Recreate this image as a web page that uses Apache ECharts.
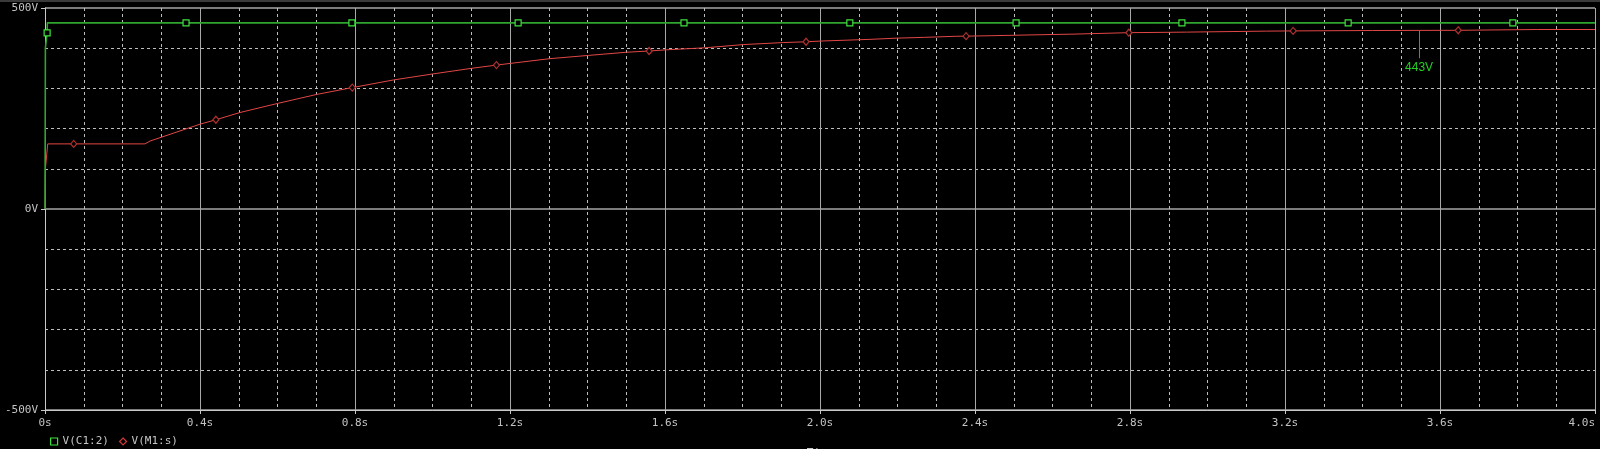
<!DOCTYPE html>
<html>
<head>
<meta charset="utf-8">
<script src="https://cdn.jsdelivr.net/npm/echarts@6/dist/echarts.min.js"></script>
<style>
html,body{margin:0;padding:0;background:#000;}
#chart{width:1600px;height:449px;}
</style>
</head>
<body>
<div id="chart"></div>
<script>
// ---- data ----
const seriesNames = ['V(C1:2)', 'V(M1:s)'];

const timeGreen = [0, 0.001, 0.005, 0.0055, 0.006, 0.364, 0.792, 1.221, 1.649, 2.077, 2.506, 2.934, 3.363, 3.788, 4.0];
const vGreen    = [0, 401,   401,   438,    463,   463,   463,   463,   463,   463,   463,   463,   463,   463,   463];
const markGreen = [0.0055, 0.364, 0.792, 1.221, 1.649, 2.077, 2.506, 2.934, 3.363, 3.788];

const timeRed = [0, 0.001, 0.006, 0.007, 0.074, 0.258, 0.271, 0.4, 0.441, 0.503,
                 0.602, 0.701, 0.793, 0.899, 1.001, 1.101, 1.165, 1.303, 1.402, 1.501,
                 1.559, 1.604, 1.703, 1.802, 1.905, 1.964, 2.008, 2.069, 2.129, 2.198,
                 2.269, 2.349, 2.377, 2.439, 2.542, 2.653, 2.797, 2.946, 3.153, 3.221,
                 3.426, 3.647, 3.851, 4.0];
const vRed    = [0, 99, 99, 162, 162, 162, 169, 211, 222, 240,
                 263, 285, 302, 321, 336, 350, 358, 374, 382, 390,
                 393, 396, 401, 409, 414, 416, 418, 420, 422, 425,
                 427, 429.6, 430, 431, 433, 435, 438.6, 440, 442.5, 443,
                 444, 444.5, 446.5, 446.5];
const markRed = [0.074, 0.441, 0.793, 1.165, 1.559, 1.964, 2.377, 2.797, 3.221, 3.647];

const cursorT = 3.546;
const cursorV = 443;
const cursorEndV = 375;
const cursorLabel = '443V';

const xTicks = [0, 0.4, 0.8, 1.2, 1.6, 2.0, 2.4, 2.8, 3.2, 3.6, 4.0];
const yTicks = [-500, 0, 500];

// ---- build ----
function build(ts, vs, marks, sym) {
  return ts.map((t, i) => marks.indexOf(t) >= 0
    ? { value: [t, vs[i]], symbol: sym }
    : [t, vs[i]]);
}

const mono = 'DejaVu Sans Mono';
const grey = '#c4c4c4';

const chart = echarts.init(document.getElementById('chart'), null, { renderer: 'canvas' });
chart.setOption({
  backgroundColor: '#000',
  animation: false,
  graphic: [{ type: 'rect', left: 0, top: 0, shape: { width: 1600, height: 2 }, style: { fill: '#3a3a3a' }, silent: true }],
  grid: { left: 45, right: 5, top: 8, bottom: 39, outerBoundsMode: 'none', containLabel: false },
  legend: {
    left: 45, top: 431,
    itemWidth: 7, itemHeight: 7, itemGap: 10,
    selectedMode: false,
    textStyle: { color: grey, fontFamily: mono, fontSize: 11 },
    data: [
      { name: seriesNames[0], icon: 'rect', itemStyle: { color: '#000', borderColor: '#3ee03e', borderWidth: 1.2 } },
      { name: seriesNames[1], icon: 'diamond', itemStyle: { color: '#000', borderColor: '#d03a3a', borderWidth: 1.2 } }
    ]
  },
  xAxis: {
    type: 'value', min: 0, max: 4, interval: 0.4,
    name: 'Time', nameLocation: 'middle', nameGap: 38,
    nameTextStyle: { color: grey, fontFamily: mono, fontSize: 11 },
    axisLine: { show: true, onZero: false, lineStyle: { color: '#c8c8c8', width: 1 } },
    axisTick: { show: true, length: 4, lineStyle: { color: '#c8c8c8' } },
    axisLabel: {
      color: grey, fontFamily: mono, fontSize: 11, margin: 8,
      alignMaxLabel: 'right',
      formatter: v => {
        const t = xTicks.find(x => Math.abs(x - v) < 1e-6);
        if (t === undefined) return '';
        return t === 0 ? '0s' : t.toFixed(1) + 's';
      }
    },
    splitLine: { show: true, lineStyle: { color: '#a8a8a8', width: 1 } },
    minorTick: { show: false, splitNumber: 4 },
    minorSplitLine: { show: true, lineStyle: { color: '#bdbdbd', width: 1, type: [3, 3] } }
  },
  yAxis: {
    type: 'value', min: -500, max: 500, interval: 500,
    axisLine: { show: true, onZero: false, lineStyle: { color: '#c8c8c8', width: 1 } },
    axisTick: { show: true, length: 4, lineStyle: { color: '#c8c8c8' } },
    axisLabel: {
      color: grey, fontFamily: mono, fontSize: 11, margin: 7,
      formatter: v => (yTicks.indexOf(v) >= 0 ? v + 'V' : '')
    },
    splitLine: { show: true, lineStyle: { color: '#7c7c7c', width: 2 } },
    minorTick: { show: false, splitNumber: 5 },
    minorSplitLine: { show: true, lineStyle: { color: '#bdbdbd', width: 1, type: [3, 3] } }
  },
  series: [
    {
      name: seriesNames[1], type: 'line', z: 3,
      data: build(timeRed, vRed, markRed, 'diamond'),
      symbol: 'none', symbolSize: [6, 7], showAllSymbol: true,
      lineStyle: { color: '#e24646', width: 1 },
      itemStyle: { color: '#000', borderColor: '#b03030', borderWidth: 1.2 },
      markLine: {
        silent: true, symbol: ['none', 'none'], animation: false,
        lineStyle: { color: '#e24646', width: 1, type: 'solid' },
        label: {
          show: true, position: 'end', distance: 3,
          formatter: cursorLabel,
          color: '#22d022', fontFamily: 'Liberation Sans', fontSize: 12
        },
        data: [[{ coord: [cursorT, cursorV] }, { coord: [cursorT, cursorEndV] }]]
      }
    },
    {
      name: seriesNames[0], type: 'line', z: 4,
      data: build(timeGreen, vGreen, markGreen, 'rect'),
      symbol: 'none', symbolSize: 6, showAllSymbol: true,
      lineStyle: { color: '#2fa52f', width: 1.6 },
      itemStyle: { color: '#000', borderColor: '#3ee03e', borderWidth: 1.2 }
    }
  ]
});
</script>
</body>
</html>
